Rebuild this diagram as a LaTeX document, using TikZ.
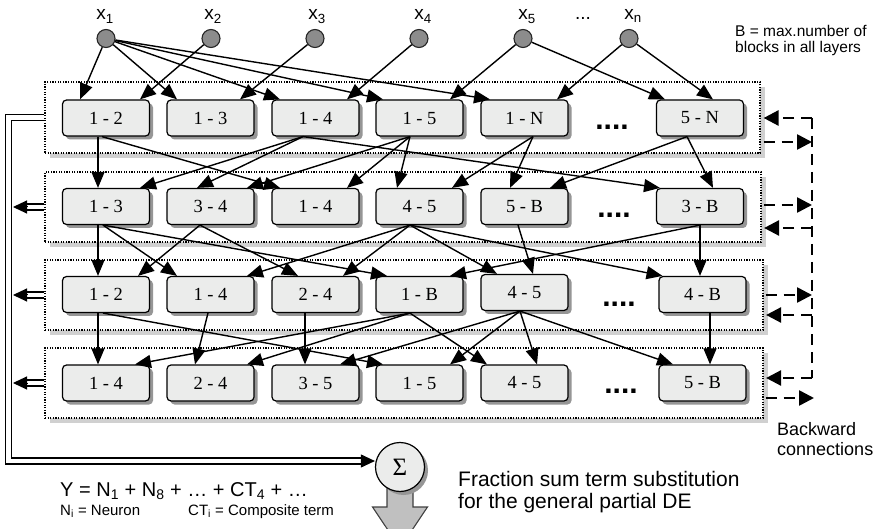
\documentclass[tikz,border=0pt]{standalone}
\usepackage{fontspec}
\setmainfont{Liberation Serif}
\setsansfont{Liberation Sans}
\usetikzlibrary{arrows.meta,shadows,calc}
\definecolor{boxfill}{RGB}{235,236,235}
\definecolor{nshadow}{RGB}{150,150,150}
\definecolor{lshadow}{RGB}{208,208,208}
\definecolor{inpfill}{RGB}{140,140,140}
\definecolor{arrowfill}{RGB}{192,192,192}
\begin{document}
\begin{tikzpicture}[x=1pt,y=-1pt,
  layer/.style={draw=black, line width=1.2pt, dash pattern=on 1.2pt off 1.4pt, fill=white, inner sep=0pt,
    drop shadow={shadow xshift=5pt, shadow yshift=-5pt, fill=lshadow, opacity=1}},
  blk/.style={rounded corners=4pt, draw=black, line width=1.2pt, fill=boxfill, minimum width=87pt,
    minimum height=36pt, inner sep=0pt, font=\fontsize{18.5}{18.5}\selectfont,
    drop shadow={shadow xshift=3.5pt, shadow yshift=-3.5pt, fill=nshadow, opacity=1}},
  inp/.style={circle, draw=black!85, fill=inpfill, line width=1.1pt, minimum size=18pt, inner sep=0pt},
  lbl/.style={anchor=base, inner sep=0pt, font=\sffamily\fontsize{19}{19}\selectfont},
  dotsnode/.style={anchor=base, inner sep=0pt, font=\sffamily\bfseries\fontsize{30}{30}\selectfont},
  txt/.style={anchor=base west, inner sep=0pt},
  ed/.style={line width=1.4pt, -{Triangle[length=16pt,width=13pt]}},
  busline/.style={double, double distance=4.5pt, line width=1.4pt},
  bustip/.style={line width=1pt, -{Triangle[length=14pt,width=13pt]}},
  bkl/.style={line width=2.6pt, dash pattern=on 11pt off 7pt},
  bk/.style={line width=2.6pt, dash pattern=on 11pt off 7pt, -{Triangle[length=15pt,width=15pt]}},
  sigst/.style={circle, draw=black, line width=1.2pt, fill=boxfill, minimum size=49pt, inner sep=0pt,
    font=\fontsize{25}{25}\selectfont,
    drop shadow={shadow xshift=3.5pt, shadow yshift=-3.5pt, fill=nshadow, opacity=1}}
]
\useasboundingbox (0,0) rectangle (878,529);

% layer containers
\node[layer, minimum width=715pt, minimum height=71pt] (L1) at (402.5,117.5) {};
\node[layer, minimum width=716pt, minimum height=70pt] (L2) at (403,207) {};
\node[layer, minimum width=718pt, minimum height=70pt] (L3) at (404,295) {};
\node[layer, minimum width=718pt, minimum height=70pt] (L4) at (404,383) {};

% layer 1
\node[blk] (a1) at (106,118) {1 - 2};
\node[blk] (a2) at (210.5,118) {1 - 3};
\node[blk] (a3) at (315.5,118) {1 - 4};
\node[blk] (a4) at (419.5,118) {1 - 5};
\node[blk] (a5) at (524.5,118) {1 - N};
\node[blk] (a6) at (700,118) {5 - N};
% layer 2
\node[blk] (b1) at (106,206.5) {1 - 3};
\node[blk] (b2) at (210.5,206.5) {3 - 4};
\node[blk] (b3) at (315.5,206.5) {1 - 4};
\node[blk] (b4) at (419.5,206.5) {4 - 5};
\node[blk] (b5) at (524.5,206.5) {5 - B};
\node[blk] (b6) at (700,206.5) {3 - B};
% layer 3
\node[blk] (c1) at (106,294.5) {1 - 2};
\node[blk] (c2) at (210.5,294.5) {1 - 4};
\node[blk] (c3) at (315.5,294.5) {2 - 4};
\node[blk] (c4) at (419.5,294.5) {1 - B};
\node[blk] (c5) at (524.5,292.5) {4 - 5};
\node[blk] (c6) at (702.5,294.5) {4 - B};
% layer 4
\node[blk] (d1) at (106,383) {1 - 4};
\node[blk] (d2) at (210.5,383) {2 - 4};
\node[blk] (d3) at (315.5,383) {3 - 5};
\node[blk] (d4) at (419.5,383) {1 - 5};
\node[blk] (d5) at (524.5,383) {4 - 5};
\node[blk] (d6) at (702.5,383) {5 - B};

% dots between blocks
\node[dotsnode] (p1) at (612,130) {....};
\node[dotsnode] (p2) at (614,218) {....};
\node[dotsnode] (p3) at (619,307) {....};
\node[dotsnode] (p4) at (621,393) {....};

% inputs
\node[inp] (i1) at (106,38.5) {};
\node[inp] (i2) at (211,38.5) {};
\node[inp] (i3) at (315,38.5) {};
\node[inp] (i4) at (419,38.5) {};
\node[inp] (i5) at (523,38.5) {};
\node[inp] (i6) at (629,38.5) {};
\node[lbl] (t1) at (105,20) {x\textsubscript{1}};
\node[lbl] (t2) at (213,20) {x\textsubscript{2}};
\node[lbl] (t3) at (317,20) {x\textsubscript{3}};
\node[lbl] (t4) at (423,20) {x\textsubscript{4}};
\node[lbl] (t5) at (527,20) {x\textsubscript{5}};
\node[lbl] (tdots) at (583,20) {...};
\node[lbl] (t6) at (633,20) {x\textsubscript{n}};

% texts
\node[txt, font=\sffamily\fontsize{15.5}{15.5}\selectfont] (bl1) at (735,37) {B = max.number of};
\node[txt, font=\sffamily\fontsize{15.5}{15.5}\selectfont] (bl2) at (735,52.5) {blocks in all layers};
\node[txt, font=\sffamily\fontsize{18}{18}\selectfont] (bw1) at (777,435) {Backward};
\node[txt, font=\sffamily\fontsize{18}{18}\selectfont] (bw2) at (777,455) {connections};
\node[txt, font=\sffamily\fontsize{21}{21}\selectfont] (fr1) at (458,486) {Fraction sum term substitution};
\node[txt, font=\sffamily\fontsize{21}{21}\selectfont] (fr2) at (458,508) {for the general partial DE};
\node[txt, font=\sffamily\fontsize{20}{20}\selectfont] (yeq) at (60,496) {Y = N\textsubscript{1} + N\textsubscript{8} + … + CT\textsubscript{4} + …};
\node[txt, font=\sffamily\fontsize{15}{15}\selectfont] (ni) at (60,515) {N\textsubscript{i} = Neuron};
\node[txt, font=\sffamily\fontsize{15}{15}\selectfont] (cti) at (188,515) {CT\textsubscript{i} = Composite term};

% output arrow and sum
\draw[fill=arrowfill, draw=black!75, line width=1.1pt] (387,482) -- (387,507) -- (372.5,507) -- (400,548)
  -- (427.5,507) -- (413,507) -- (413,482) -- cycle;
\node[sigst] (sig) at (400,467) {Σ};

% input connections
\draw[ed] (i1) -- ([xshift=-26pt]a1.north);
\draw[ed] (i1) -- ([xshift=-33.5pt]a2.north);
\draw[ed] (i1) -- ([xshift=-35.5pt]a3.north);
\draw[ed] (i1) -- ([xshift=-36.5pt]a4.north);
\draw[ed] (i1) -- ([xshift=-34.5pt]a5.north);
\draw[ed] (i2) -- ([xshift=34pt]a1.north);
\draw[ed] (i3) -- ([xshift=29.5pt]a2.north);
\draw[ed] (i4) -- ([xshift=31.5pt]a3.north);
\draw[ed] (i5) -- ([xshift=30.5pt]a4.north);
\draw[ed] (i5) -- ([xshift=-35pt]a6.north);
\draw[ed] (i6) -- ([xshift=32.5pt]a5.north);
\draw[ed] (i6) -- ([xshift=13pt]a6.north);

% layer 1 -> 2
\draw[ed] ([xshift=-8pt]a1.south) -- ([xshift=-8pt]b1.north);
\draw[ed] ([xshift=-4pt]a1.south) -- ([xshift=-35.5pt]b3.north);
\draw[ed] ([xshift=-12.5pt]a3.south) -- ([xshift=34pt]b1.north);
\draw[ed] ([xshift=-12.5pt]a3.south) -- ([xshift=-13.5pt]b2.north);
\draw[ed] ([xshift=-12.5pt]a3.south) -- ([xshift=-40pt]b6.north);
\draw[ed] ([xshift=-9.5pt]a4.south) -- ([xshift=36.5pt]b2.north);
\draw[ed] ([xshift=-9.5pt]a4.south) -- ([xshift=31.5pt]b3.north);
\draw[ed] ([xshift=-9.5pt]a4.south) -- ([xshift=-22.5pt]b4.north);
\draw[ed] ([xshift=8.5pt]a5.south) -- ([xshift=32.5pt]b4.north);
\draw[ed] ([xshift=8.5pt]a5.south) -- ([xshift=-14.5pt]b5.north);
\draw[ed] ([xshift=-13pt]a6.south) -- ([xshift=25.5pt]b5.north);
\draw[ed] ([xshift=-13pt]a6.south) -- ([xshift=13pt]b6.north);

% layer 2 -> 3
\draw[ed] ([xshift=-8pt]b1.south) -- ([xshift=-8pt]c1.north);
\draw[ed] ([xshift=-3pt]b1.south) -- ([xshift=-33.5pt]c2.north);
\draw[ed] ([xshift=-3pt]b1.south) -- ([xshift=-32.5pt]c4.north);
\draw[ed] ([xshift=-10.5pt]b2.south) -- ([xshift=32pt]c1.north);
\draw[ed] ([xshift=-10.5pt]b2.south) -- ([xshift=-17.5pt]c3.north);
\draw[ed] ([xshift=-9.5pt]b4.south) -- ([xshift=36.5pt]c2.north);
\draw[ed] ([xshift=-9.5pt]b4.south) -- ([xshift=27.5pt]c3.north);
\draw[ed] ([xshift=-9.5pt]b4.south) -- ([xshift=-27.5pt]c5.north);
\draw[ed] ([xshift=-9.5pt]b4.south) -- ([xshift=-40pt]c6.north);
\draw[ed] ([xshift=-6.5pt]b5.south) -- ([xshift=8.5pt]c5.north);
\draw[ed] (b6.south) -- ([xshift=30.5pt]c4.north);
\draw[ed] (b6.south) -- ([xshift=-2.5pt]c6.north);

% layer 3 -> 4
\draw[ed] ([xshift=-8pt]c1.south) -- ([xshift=-8pt]d1.north);
\draw[ed] ([xshift=-3pt]c1.south) -- ([xshift=-36.5pt]d4.north);
\draw[ed] ([xshift=-2.5pt]c2.south) -- ([xshift=-15.5pt]d2.north);
\draw[ed] ([xshift=-10.5pt]c3.south) -- ([xshift=-10.5pt]d3.north);
\draw[ed] ([xshift=-9.5pt]c4.south) -- ([xshift=29pt]d1.north);
\draw[ed] ([xshift=-9.5pt]c4.south) -- ([xshift=36.5pt]d2.north);
\draw[ed] ([xshift=-9.5pt]c4.south) -- ([xshift=-37.5pt]d5.north);
\draw[ed] ([xshift=-4.5pt]c5.south) -- ([xshift=24.5pt]d3.north);
\draw[ed] ([xshift=-4.5pt]c5.south) -- ([xshift=30.5pt]d4.north);
\draw[ed] ([xshift=-4.5pt]c5.south) -- ([xshift=12.5pt]d5.north);
\draw[ed] ([xshift=-4.5pt]c5.south) -- ([xshift=-29.5pt]d6.north);
\draw[ed] ([xshift=7.5pt]c6.south) -- ([xshift=7.5pt]d6.north);

% output bus (left)
\coordinate (busTop) at (8.5,117.5);
\coordinate (busBot) at (8.5,461);
\coordinate (busIn) at (13,0);
\coordinate (sigIn) at (busBot -| sig.west);
\coordinate (e2) at (L2.west -| busIn);
\coordinate (e3) at (L3.west -| busIn);
\coordinate (e4) at (L4.west -| busIn);
\draw[busline, shorten >=12pt] (L1.west) -- (busTop) -- (busBot) -- (sigIn);
\draw[bustip] ($(sigIn)+(-14,0)$) -- (sigIn);
\draw[busline, shorten >=12pt] (L2.west) -- (e2);
\draw[bustip] ($(e2)+(14,0)$) -- (e2);
\draw[busline, shorten >=12pt] (L3.west) -- (e3);
\draw[bustip] ($(e3)+(14,0)$) -- (e3);
\draw[busline, shorten >=12pt] (L4.west) -- (e4);
\draw[bustip] ($(e4)+(14,0)$) -- (e4);

% backward connections (right)
\coordinate (r1a) at (812,118);
\coordinate (r1b) at (812,142);
\coordinate (r2a) at (812,205);
\coordinate (r2b) at (812,228);
\coordinate (r3a) at (812,295);
\coordinate (r3b) at (812,315);
\coordinate (r4a) at (812,378);
\coordinate (r4b) at (814,398);
\draw[bkl] (r1a) -- (r4a);
\draw[bk, shorten >=3pt] (r1a) -- (L1.east |- r1a);
\draw[bk, shorten <=3pt] (L1.east |- r1b) -- (r1b);
\draw[bk, shorten <=2pt] (L2.east |- r2a) -- (r2a);
\draw[bk, shorten >=2.5pt] (r2b) -- (L2.east |- r2b);
\draw[bk, shorten <=2pt] (L3.east |- r3a) -- (r3a);
\draw[bk, shorten >=2.5pt] (r3b) -- (L3.east |- r3b);
\draw[bk, shorten >=2.5pt] (r4a) -- (L4.east |- r4a);
\draw[bk, shorten <=2pt] (L4.east |- r4b) -- (r4b);
\end{tikzpicture}
\end{document}
